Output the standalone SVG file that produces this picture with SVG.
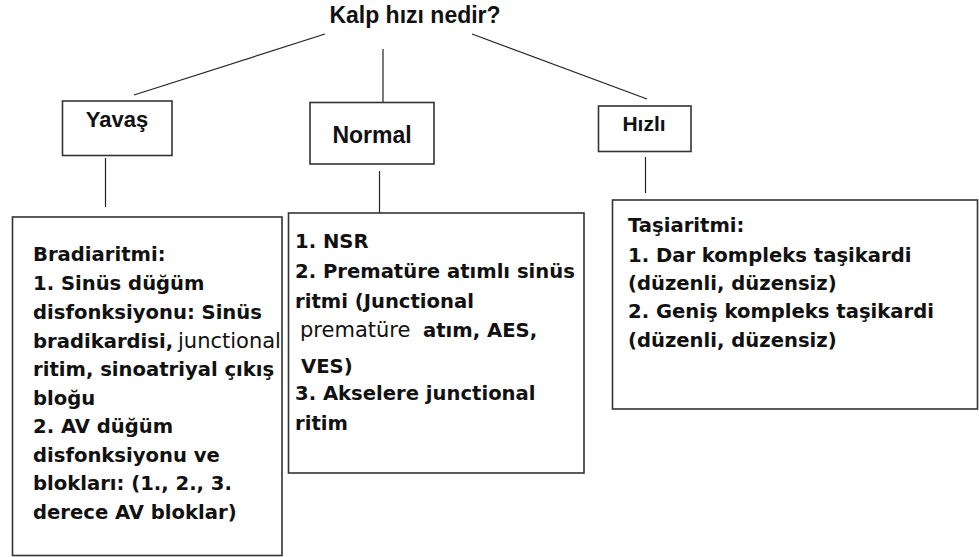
<svg xmlns="http://www.w3.org/2000/svg" width="979" height="557" viewBox="0 0 979 557">
<style>
.box{fill:#fff;stroke:#333;stroke-width:1.6}
.ln{stroke:#222;stroke-width:1.2;fill:none}
.lbl{font-family:"Liberation Sans",Arial,sans-serif;font-weight:bold;fill:#111;text-anchor:middle}
.t{font-family:"DejaVu Sans","Liberation Sans",sans-serif;font-weight:bold;font-size:19.6px;fill:#111}
.r{font-weight:normal;font-size:21px}
</style>
<rect width="979" height="557" fill="#fff"/>
<g id="connectors">
<line class="ln" x1="325" y1="34" x2="134" y2="95"/>
<line class="ln" x1="383" y1="49" x2="383" y2="102"/>
<line class="ln" x1="472" y1="34" x2="647" y2="99"/>
<line class="ln" x1="105.5" y1="158" x2="105.5" y2="207"/>
<line class="ln" x1="379.5" y1="171" x2="379.5" y2="213"/>
<line class="ln" x1="645.5" y1="157" x2="645.5" y2="193"/>
</g>
<g id="title">
<text class="lbl" x="415" y="23" font-size="23">Kalp hızı nedir?</text>
</g>
<g id="yavas">
<rect class="box" x="62.5" y="101" width="109.5" height="54.5"/>
<text class="lbl" x="117" y="127" font-size="22">Yavaş</text>
</g>
<g id="normal">
<rect class="box" x="310" y="102.5" width="124" height="61.5"/>
<text class="lbl" x="372" y="143" font-size="23">Normal</text>
</g>
<g id="hizli">
<rect class="box" x="598.5" y="106" width="92.5" height="45.5"/>
<text class="lbl" x="644" y="131" font-size="21">Hızlı</text>
</g>
<g id="bradiaritmi">
<rect class="box" x="12.5" y="217" width="269.5" height="338.5"/>
<text class="t">
<tspan x="33" y="261">Bradiaritmi:</tspan>
<tspan x="33" y="290">1. Sinüs düğüm</tspan>
<tspan x="33" y="319">disfonksiyonu: Sinüs</tspan>
<tspan x="33" y="348">bradikardisi,</tspan><tspan class="r" x="178" y="348">junctional</tspan>
<tspan x="33" y="376">ritim, sinoatriyal çıkış</tspan>
<tspan x="33" y="405">bloğu</tspan>
<tspan x="33" y="433">2. AV düğüm</tspan>
<tspan x="33" y="462">disfonksiyonu ve</tspan>
<tspan x="33" y="490">blokları: (1., 2., 3.</tspan>
<tspan x="33" y="519">derece AV bloklar)</tspan>
</text>
</g>
<g id="normal-list">
<rect class="box" x="288.5" y="213" width="295.5" height="260"/>
<text class="t">
<tspan x="295" y="248">1. NSR</tspan>
<tspan x="295" y="278">2. Prematüre atımlı sinüs</tspan>
<tspan x="295" y="308">ritmi (Junctional</tspan>
<tspan class="r" x="300" y="337">prematüre</tspan><tspan x="423" y="337">atım, AES,</tspan>
<tspan x="301" y="373">VES)</tspan>
<tspan x="295" y="400">3. Akselere junctional</tspan>
<tspan x="295" y="430">ritim</tspan>
</text>
</g>
<g id="tasiaritmi">
<rect class="box" x="612.5" y="200" width="365" height="209"/>
<text class="t">
<tspan x="628" y="232">Taşiaritmi:</tspan>
<tspan x="628" y="262">1. Dar kompleks taşikardi</tspan>
<tspan x="628" y="290">(düzenli, düzensiz)</tspan>
<tspan x="628" y="318">2. Geniş kompleks taşikardi</tspan>
<tspan x="628" y="347">(düzenli, düzensiz)</tspan>
</text>
</g>
</svg>
